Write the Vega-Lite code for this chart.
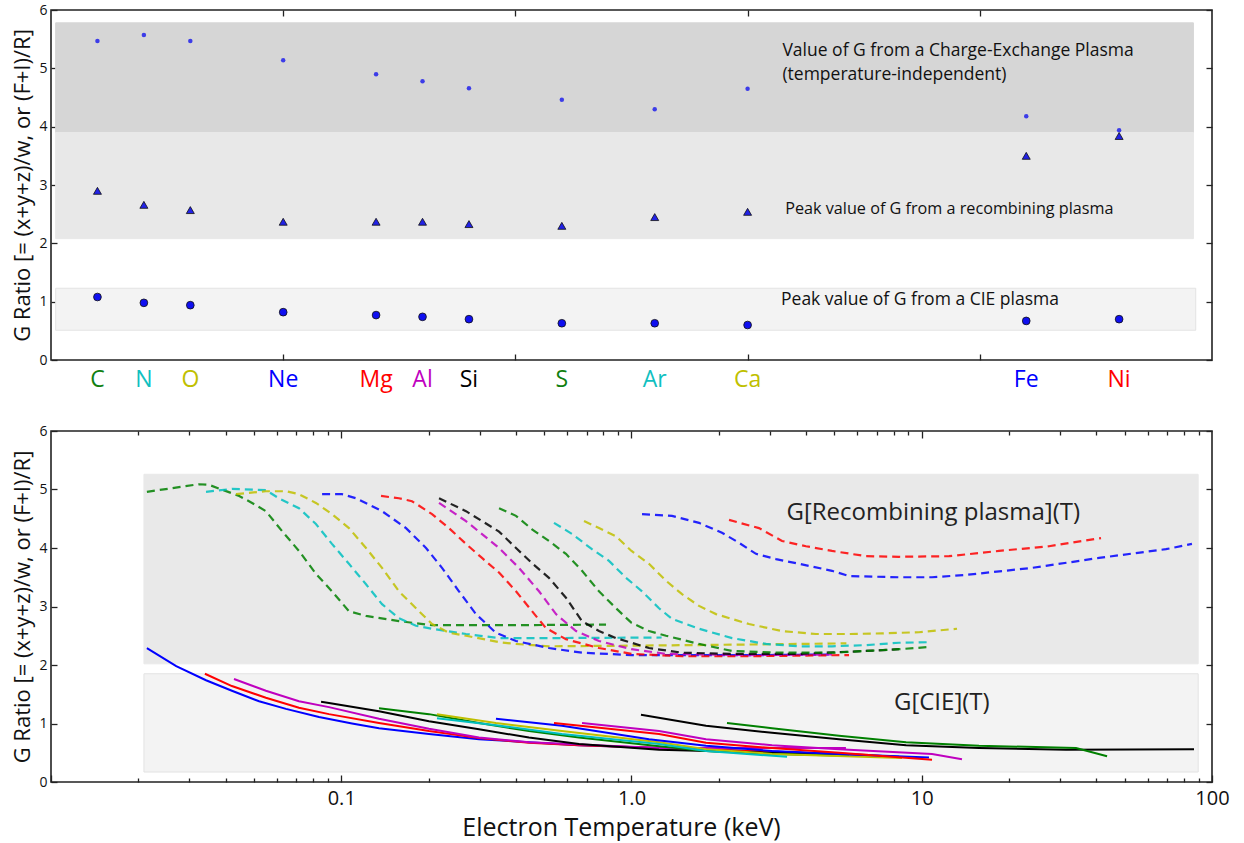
{
  "$schema": "https://vega.github.io/schema/vega-lite/v6.json",
  "padding": {"left": 11, "top": 2, "right": 5, "bottom": 0},
  "background": "white",
  "spacing": 30,
  "config": {
    "font": "Open Sans",
    "view": {"stroke": "#222", "strokeWidth": 1.6},
    "axis": {"domain": false, "grid": false, "zindex": 1, "tickColor": "#222", "tickWidth": 1.3, "labelColor": "#111", "titleColor": "#111", "titleFontWeight": "normal", "labelFont": "Open Sans", "titleFont": "Open Sans"}
  },
  "resolve": {"scale": {"color": "independent", "fill": "independent", "stroke": "independent"}},
  "datasets": {
    "elements": [
      {"el": "C", "Z": 6}, {"el": "N", "Z": 7}, {"el": "O", "Z": 8}, {"el": "Ne", "Z": 10},
      {"el": "Mg", "Z": 12}, {"el": "Al", "Z": 13}, {"el": "Si", "Z": 14}, {"el": "S", "Z": 16},
      {"el": "Ar", "Z": 18}, {"el": "Ca", "Z": 20}, {"el": "Fe", "Z": 26}, {"el": "Ni", "Z": 28}
    ],
    "topPoints": [
      {"el": "C", "Z": 6, "kind": "cx", "G": 5.47}, {"el": "C", "Z": 6, "kind": "rec", "G": 2.90}, {"el": "C", "Z": 6, "kind": "cie", "G": 1.08},
      {"el": "N", "Z": 7, "kind": "cx", "G": 5.57}, {"el": "N", "Z": 7, "kind": "rec", "G": 2.66}, {"el": "N", "Z": 7, "kind": "cie", "G": 0.98},
      {"el": "O", "Z": 8, "kind": "cx", "G": 5.47}, {"el": "O", "Z": 8, "kind": "rec", "G": 2.57}, {"el": "O", "Z": 8, "kind": "cie", "G": 0.94},
      {"el": "Ne", "Z": 10, "kind": "cx", "G": 5.14}, {"el": "Ne", "Z": 10, "kind": "rec", "G": 2.37}, {"el": "Ne", "Z": 10, "kind": "cie", "G": 0.82},
      {"el": "Mg", "Z": 12, "kind": "cx", "G": 4.90}, {"el": "Mg", "Z": 12, "kind": "rec", "G": 2.37}, {"el": "Mg", "Z": 12, "kind": "cie", "G": 0.77},
      {"el": "Al", "Z": 13, "kind": "cx", "G": 4.78}, {"el": "Al", "Z": 13, "kind": "rec", "G": 2.37}, {"el": "Al", "Z": 13, "kind": "cie", "G": 0.74},
      {"el": "Si", "Z": 14, "kind": "cx", "G": 4.66}, {"el": "Si", "Z": 14, "kind": "rec", "G": 2.33}, {"el": "Si", "Z": 14, "kind": "cie", "G": 0.70},
      {"el": "S", "Z": 16, "kind": "cx", "G": 4.46}, {"el": "S", "Z": 16, "kind": "rec", "G": 2.30}, {"el": "S", "Z": 16, "kind": "cie", "G": 0.63},
      {"el": "Ar", "Z": 18, "kind": "cx", "G": 4.30}, {"el": "Ar", "Z": 18, "kind": "rec", "G": 2.45}, {"el": "Ar", "Z": 18, "kind": "cie", "G": 0.63},
      {"el": "Ca", "Z": 20, "kind": "cx", "G": 4.65}, {"el": "Ca", "Z": 20, "kind": "rec", "G": 2.54}, {"el": "Ca", "Z": 20, "kind": "cie", "G": 0.60},
      {"el": "Fe", "Z": 26, "kind": "cx", "G": 4.18}, {"el": "Fe", "Z": 26, "kind": "rec", "G": 3.50}, {"el": "Fe", "Z": 26, "kind": "cie", "G": 0.67},
      {"el": "Ni", "Z": 28, "kind": "cx", "G": 3.94}, {"el": "Ni", "Z": 28, "kind": "rec", "G": 3.84}, {"el": "Ni", "Z": 28, "kind": "cie", "G": 0.70}
    ],
    "topBands": [
      {"band": "charge-exchange", "Z1": 5.1, "Z2": 29.6, "G1": 3.9, "G2": 5.78},
      {"band": "recombining", "Z1": 5.1, "Z2": 29.6, "G1": 2.08, "G2": 3.9},
      {"band": "CIE", "Z1": 5.1, "Z2": 29.65, "G1": 0.51, "G2": 1.23}
    ],
    "topNotes": [
      {"note": "Value of G from a Charge-Exchange Plasma", "Z": 20.75, "G": 5.3},
      {"note": "(temperature-independent)", "Z": 20.75, "G": 4.88},
      {"note": "Peak value of G from a recombining plasma", "Z": 20.81, "G": 2.59},
      {"note": "Peak value of G from a CIE plasma", "Z": 20.72, "G": 1.03}
    ],
    "bottomBands": [
      {"band": "recombining", "T1": 0.0209, "T2": 89.6, "G1": 2.02, "G2": 5.26},
      {"band": "CIE", "T1": 0.0209, "T2": 89.6, "G1": 0.17, "G2": 1.85}
    ],
    "bottomNotes": [
      {"note": "G[Recombining plasma](T)", "T": 3.42, "G": 4.6},
      {"note": "G[CIE](T)", "T": 8.02, "G": 1.35}
    ],
    "recLines": [
      {"el": "C", "T": 0.0214, "G": 4.96}, {"el": "C", "T": 0.0323, "G": 5.09}, {"el": "C", "T": 0.035, "G": 5.08}, {"el": "C", "T": 0.0445, "G": 4.89}, {"el": "C", "T": 0.0493, "G": 4.77}, {"el": "C", "T": 0.055, "G": 4.63}, {"el": "C", "T": 0.0625, "G": 4.29}, {"el": "C", "T": 0.0715, "G": 3.95}, {"el": "C", "T": 0.0818, "G": 3.56}, {"el": "C", "T": 0.0929, "G": 3.26}, {"el": "C", "T": 0.1063, "G": 2.92}, {"el": "C", "T": 0.1217, "G": 2.84}, {"el": "C", "T": 0.158, "G": 2.75}, {"el": "C", "T": 0.2055, "G": 2.68}, {"el": "C", "T": 0.35, "G": 2.68}, {"el": "C", "T": 0.817, "G": 2.69},
      {"el": "N", "T": 0.0342, "G": 4.96}, {"el": "N", "T": 0.042, "G": 5.01}, {"el": "N", "T": 0.055, "G": 4.99}, {"el": "N", "T": 0.061, "G": 4.85}, {"el": "N", "T": 0.0715, "G": 4.68}, {"el": "N", "T": 0.0818, "G": 4.41}, {"el": "N", "T": 0.0929, "G": 4.07}, {"el": "N", "T": 0.1063, "G": 3.73}, {"el": "N", "T": 0.1217, "G": 3.38}, {"el": "N", "T": 0.1382, "G": 3.04}, {"el": "N", "T": 0.158, "G": 2.8}, {"el": "N", "T": 0.1809, "G": 2.67}, {"el": "N", "T": 0.2055, "G": 2.62}, {"el": "N", "T": 0.269, "G": 2.53}, {"el": "N", "T": 0.35, "G": 2.46}, {"el": "N", "T": 0.52, "G": 2.46}, {"el": "N", "T": 1.27, "G": 2.47},
      {"el": "O", "T": 0.0434, "G": 4.92}, {"el": "O", "T": 0.055, "G": 4.97}, {"el": "O", "T": 0.0645, "G": 4.97}, {"el": "O", "T": 0.0715, "G": 4.92}, {"el": "O", "T": 0.0818, "G": 4.77}, {"el": "O", "T": 0.0929, "G": 4.58}, {"el": "O", "T": 0.1063, "G": 4.34}, {"el": "O", "T": 0.1217, "G": 4.0}, {"el": "O", "T": 0.1382, "G": 3.66}, {"el": "O", "T": 0.158, "G": 3.26}, {"el": "O", "T": 0.1809, "G": 2.97}, {"el": "O", "T": 0.2055, "G": 2.7}, {"el": "O", "T": 0.235, "G": 2.55}, {"el": "O", "T": 0.269, "G": 2.5}, {"el": "O", "T": 0.35, "G": 2.39}, {"el": "O", "T": 0.4, "G": 2.36}, {"el": "O", "T": 0.52, "G": 2.32}, {"el": "O", "T": 1.0, "G": 2.33}, {"el": "O", "T": 2.5, "G": 2.35}, {"el": "O", "T": 5.5, "G": 2.37},
      {"el": "Ne", "T": 0.0859, "G": 4.92}, {"el": "Ne", "T": 0.1006, "G": 4.92}, {"el": "Ne", "T": 0.1124, "G": 4.85}, {"el": "Ne", "T": 0.1382, "G": 4.63}, {"el": "Ne", "T": 0.1672, "G": 4.34}, {"el": "Ne", "T": 0.1959, "G": 4.0}, {"el": "Ne", "T": 0.2224, "G": 3.66}, {"el": "Ne", "T": 0.2544, "G": 3.26}, {"el": "Ne", "T": 0.2912, "G": 2.87}, {"el": "Ne", "T": 0.3412, "G": 2.55}, {"el": "Ne", "T": 0.4, "G": 2.41}, {"el": "Ne", "T": 0.5195, "G": 2.29}, {"el": "Ne", "T": 0.6754, "G": 2.21}, {"el": "Ne", "T": 1.0, "G": 2.17}, {"el": "Ne", "T": 1.709, "G": 2.17}, {"el": "Ne", "T": 2.907, "G": 2.17}, {"el": "Ne", "T": 4.908, "G": 2.18},
      {"el": "Mg", "T": 0.1371, "G": 4.89}, {"el": "Mg", "T": 0.158, "G": 4.85}, {"el": "Mg", "T": 0.1753, "G": 4.8}, {"el": "Mg", "T": 0.2055, "G": 4.58}, {"el": "Mg", "T": 0.235, "G": 4.34}, {"el": "Mg", "T": 0.269, "G": 4.07}, {"el": "Mg", "T": 0.3054, "G": 3.83}, {"el": "Mg", "T": 0.3496, "G": 3.58}, {"el": "Mg", "T": 0.4, "G": 3.26}, {"el": "Mg", "T": 0.4542, "G": 2.92}, {"el": "Mg", "T": 0.5075, "G": 2.63}, {"el": "Mg", "T": 0.5946, "G": 2.44}, {"el": "Mg", "T": 0.7727, "G": 2.29}, {"el": "Mg", "T": 1.0, "G": 2.19}, {"el": "Mg", "T": 1.493, "G": 2.15}, {"el": "Mg", "T": 2.54, "G": 2.15}, {"el": "Mg", "T": 5.616, "G": 2.17},
      {"el": "Al", "T": 0.2172, "G": 4.77}, {"el": "Al", "T": 0.269, "G": 4.46}, {"el": "Al", "T": 0.3496, "G": 4.0}, {"el": "Al", "T": 0.4097, "G": 3.66}, {"el": "Al", "T": 0.4801, "G": 3.26}, {"el": "Al", "T": 0.5494, "G": 2.87}, {"el": "Al", "T": 0.6437, "G": 2.58}, {"el": "Al", "T": 0.7727, "G": 2.41}, {"el": "Al", "T": 1.0, "G": 2.27}, {"el": "Al", "T": 1.315, "G": 2.19}, {"el": "Al", "T": 2.54, "G": 2.17}, {"el": "Al", "T": 4.908, "G": 2.18},
      {"el": "Si", "T": 0.2172, "G": 4.85}, {"el": "Si", "T": 0.269, "G": 4.63}, {"el": "Si", "T": 0.3496, "G": 4.28}, {"el": "Si", "T": 0.4, "G": 4.0}, {"el": "Si", "T": 0.4542, "G": 3.74}, {"el": "Si", "T": 0.5195, "G": 3.49}, {"el": "Si", "T": 0.5946, "G": 3.15}, {"el": "Si", "T": 0.6754, "G": 2.75}, {"el": "Si", "T": 0.7727, "G": 2.58}, {"el": "Si", "T": 0.8844, "G": 2.46}, {"el": "Si", "T": 1.149, "G": 2.29}, {"el": "Si", "T": 1.493, "G": 2.21}, {"el": "Si", "T": 2.22, "G": 2.19}, {"el": "Si", "T": 3.777, "G": 2.19}, {"el": "Si", "T": 6.428, "G": 2.24}, {"el": "Si", "T": 8.35, "G": 2.27},
      {"el": "S", "T": 0.3496, "G": 4.68}, {"el": "S", "T": 0.4, "G": 4.55}, {"el": "S", "T": 0.4542, "G": 4.32}, {"el": "S", "T": 0.5195, "G": 4.12}, {"el": "S", "T": 0.5946, "G": 3.9}, {"el": "S", "T": 0.6754, "G": 3.61}, {"el": "S", "T": 0.7727, "G": 3.26}, {"el": "S", "T": 0.8844, "G": 2.97}, {"el": "S", "T": 1.0, "G": 2.72}, {"el": "S", "T": 1.149, "G": 2.58}, {"el": "S", "T": 1.315, "G": 2.5}, {"el": "S", "T": 1.709, "G": 2.36}, {"el": "S", "T": 2.22, "G": 2.24}, {"el": "S", "T": 3.301, "G": 2.21}, {"el": "S", "T": 4.908, "G": 2.21}, {"el": "S", "T": 6.428, "G": 2.24}, {"el": "S", "T": 8.35, "G": 2.27}, {"el": "S", "T": 10.76, "G": 2.31},
      {"el": "Ar", "T": 0.5407, "G": 4.43}, {"el": "Ar", "T": 0.6237, "G": 4.24}, {"el": "Ar", "T": 0.7307, "G": 3.98}, {"el": "Ar", "T": 0.8367, "G": 3.78}, {"el": "Ar", "T": 0.9573, "G": 3.49}, {"el": "Ar", "T": 1.087, "G": 3.26}, {"el": "Ar", "T": 1.244, "G": 2.97}, {"el": "Ar", "T": 1.379, "G": 2.79}, {"el": "Ar", "T": 1.709, "G": 2.62}, {"el": "Ar", "T": 2.22, "G": 2.46}, {"el": "Ar", "T": 2.907, "G": 2.36}, {"el": "Ar", "T": 3.777, "G": 2.32}, {"el": "Ar", "T": 4.908, "G": 2.32}, {"el": "Ar", "T": 6.428, "G": 2.34}, {"el": "Ar", "T": 8.35, "G": 2.38}, {"el": "Ar", "T": 10.76, "G": 2.39},
      {"el": "Ca", "T": 0.6862, "G": 4.46}, {"el": "Ca", "T": 0.7727, "G": 4.34}, {"el": "Ca", "T": 0.8844, "G": 4.2}, {"el": "Ca", "T": 1.0, "G": 3.95}, {"el": "Ca", "T": 1.149, "G": 3.73}, {"el": "Ca", "T": 1.315, "G": 3.44}, {"el": "Ca", "T": 1.493, "G": 3.21}, {"el": "Ca", "T": 1.709, "G": 3.01}, {"el": "Ca", "T": 1.955, "G": 2.87}, {"el": "Ca", "T": 2.54, "G": 2.7}, {"el": "Ca", "T": 3.301, "G": 2.58}, {"el": "Ca", "T": 4.322, "G": 2.53}, {"el": "Ca", "T": 5.616, "G": 2.53}, {"el": "Ca", "T": 7.295, "G": 2.54}, {"el": "Ca", "T": 8.35, "G": 2.55}, {"el": "Ca", "T": 9.78, "G": 2.56}, {"el": "Ca", "T": 13.23, "G": 2.62},
      {"el": "Fe", "T": 1.087, "G": 4.58}, {"el": "Fe", "T": 1.379, "G": 4.55}, {"el": "Fe", "T": 1.709, "G": 4.43}, {"el": "Fe", "T": 2.05, "G": 4.26}, {"el": "Fe", "T": 2.346, "G": 4.09}, {"el": "Fe", "T": 2.685, "G": 3.9}, {"el": "Fe", "T": 3.147, "G": 3.81}, {"el": "Fe", "T": 3.777, "G": 3.73}, {"el": "Fe", "T": 4.908, "G": 3.61}, {"el": "Fe", "T": 5.616, "G": 3.52}, {"el": "Fe", "T": 8.35, "G": 3.5}, {"el": "Fe", "T": 10.85, "G": 3.5}, {"el": "Fe", "T": 14.21, "G": 3.54}, {"el": "Fe", "T": 23.98, "G": 3.66}, {"el": "Fe", "T": 40.8, "G": 3.83}, {"el": "Fe", "T": 69.4, "G": 3.98}, {"el": "Fe", "T": 85.3, "G": 4.07},
      {"el": "Ni", "T": 2.168, "G": 4.48}, {"el": "Ni", "T": 2.75, "G": 4.34}, {"el": "Ni", "T": 3.301, "G": 4.12}, {"el": "Ni", "T": 3.992, "G": 4.03}, {"el": "Ni", "T": 4.908, "G": 3.95}, {"el": "Ni", "T": 6.428, "G": 3.86}, {"el": "Ni", "T": 8.35, "G": 3.85}, {"el": "Ni", "T": 12.42, "G": 3.86}, {"el": "Ni", "T": 18.46, "G": 3.95}, {"el": "Ni", "T": 27.44, "G": 4.03}, {"el": "Ni", "T": 41.46, "G": 4.17}
    ],
    "cieLines": [
      {"curve": "CIE-1", "T": 0.0214, "G": 2.29}, {"curve": "CIE-1", "T": 0.027, "G": 1.98}, {"curve": "CIE-1", "T": 0.0342, "G": 1.74}, {"curve": "CIE-1", "T": 0.042, "G": 1.56}, {"curve": "CIE-1", "T": 0.0521, "G": 1.38}, {"curve": "CIE-1", "T": 0.0645, "G": 1.25}, {"curve": "CIE-1", "T": 0.0838, "G": 1.11}, {"curve": "CIE-1", "T": 0.1089, "G": 1.0}, {"curve": "CIE-1", "T": 0.1349, "G": 0.92}, {"curve": "CIE-1", "T": 0.2006, "G": 0.82}, {"curve": "CIE-1", "T": 0.2983, "G": 0.73}, {"curve": "CIE-1", "T": 0.4433, "G": 0.68}, {"curve": "CIE-1", "T": 0.6594, "G": 0.63}, {"curve": "CIE-1", "T": 1.244, "G": 0.58}, {"curve": "CIE-1", "T": 3.049, "G": 0.52}, {"curve": "CIE-1", "T": 5.616, "G": 0.47}, {"curve": "CIE-1", "T": 8.35, "G": 0.43},
      {"curve": "CIE-2", "T": 0.0339, "G": 1.85}, {"curve": "CIE-2", "T": 0.042, "G": 1.64}, {"curve": "CIE-2", "T": 0.055, "G": 1.44}, {"curve": "CIE-2", "T": 0.0715, "G": 1.27}, {"curve": "CIE-2", "T": 0.0907, "G": 1.16}, {"curve": "CIE-2", "T": 0.1349, "G": 1.01}, {"curve": "CIE-2", "T": 0.2006, "G": 0.87}, {"curve": "CIE-2", "T": 0.2983, "G": 0.75}, {"curve": "CIE-2", "T": 0.4433, "G": 0.67}, {"curve": "CIE-2", "T": 0.6594, "G": 0.63}, {"curve": "CIE-2", "T": 1.244, "G": 0.58}, {"curve": "CIE-2", "T": 3.777, "G": 0.5}, {"curve": "CIE-2", "T": 6.58, "G": 0.46},
      {"curve": "CIE-3", "T": 0.0427, "G": 1.76}, {"curve": "CIE-3", "T": 0.055, "G": 1.56}, {"curve": "CIE-3", "T": 0.0715, "G": 1.38}, {"curve": "CIE-3", "T": 0.0907, "G": 1.28}, {"curve": "CIE-3", "T": 0.1349, "G": 1.08}, {"curve": "CIE-3", "T": 0.2006, "G": 0.91}, {"curve": "CIE-3", "T": 0.2983, "G": 0.76}, {"curve": "CIE-3", "T": 0.4433, "G": 0.68}, {"curve": "CIE-3", "T": 0.6594, "G": 0.64}, {"curve": "CIE-3", "T": 1.244, "G": 0.58}, {"curve": "CIE-3", "T": 2.5, "G": 0.58}, {"curve": "CIE-3", "T": 5.48, "G": 0.58},
      {"curve": "CIE-4", "T": 0.0852, "G": 1.37}, {"curve": "CIE-4", "T": 0.0907, "G": 1.35}, {"curve": "CIE-4", "T": 0.1349, "G": 1.21}, {"curve": "CIE-4", "T": 0.2006, "G": 1.04}, {"curve": "CIE-4", "T": 0.2983, "G": 0.9}, {"curve": "CIE-4", "T": 0.4433, "G": 0.76}, {"curve": "CIE-4", "T": 0.6594, "G": 0.65}, {"curve": "CIE-4", "T": 1.244, "G": 0.55}, {"curve": "CIE-4", "T": 3.049, "G": 0.5}, {"curve": "CIE-4", "T": 5.616, "G": 0.48},
      {"curve": "CIE-5", "T": 0.1349, "G": 1.26}, {"curve": "CIE-5", "T": 0.2006, "G": 1.16}, {"curve": "CIE-5", "T": 0.2983, "G": 1.01}, {"curve": "CIE-5", "T": 0.4433, "G": 0.87}, {"curve": "CIE-5", "T": 0.6594, "G": 0.76}, {"curve": "CIE-5", "T": 1.244, "G": 0.61}, {"curve": "CIE-5", "T": 1.806, "G": 0.53}, {"curve": "CIE-5", "T": 3.049, "G": 0.48}, {"curve": "CIE-5", "T": 5.616, "G": 0.45},
      {"curve": "CIE-6", "T": 0.2137, "G": 1.16}, {"curve": "CIE-6", "T": 0.3412, "G": 1.01}, {"curve": "CIE-6", "T": 0.576, "G": 0.87}, {"curve": "CIE-6", "T": 1.244, "G": 0.68}, {"curve": "CIE-6", "T": 1.806, "G": 0.56}, {"curve": "CIE-6", "T": 3.049, "G": 0.48}, {"curve": "CIE-6", "T": 8.55, "G": 0.41},
      {"curve": "CIE-7", "T": 0.2137, "G": 1.09}, {"curve": "CIE-7", "T": 0.3412, "G": 0.97}, {"curve": "CIE-7", "T": 0.576, "G": 0.82}, {"curve": "CIE-7", "T": 1.244, "G": 0.65}, {"curve": "CIE-7", "T": 1.806, "G": 0.53}, {"curve": "CIE-7", "T": 3.435, "G": 0.43},
      {"curve": "CIE-8", "T": 0.3412, "G": 1.08}, {"curve": "CIE-8", "T": 0.576, "G": 0.96}, {"curve": "CIE-8", "T": 1.149, "G": 0.73}, {"curve": "CIE-8", "T": 1.806, "G": 0.62}, {"curve": "CIE-8", "T": 3.049, "G": 0.53}, {"curve": "CIE-8", "T": 5.187, "G": 0.48}, {"curve": "CIE-8", "T": 10.59, "G": 0.42},
      {"curve": "CIE-9", "T": 0.5407, "G": 1.01}, {"curve": "CIE-9", "T": 1.244, "G": 0.82}, {"curve": "CIE-9", "T": 1.806, "G": 0.67}, {"curve": "CIE-9", "T": 3.049, "G": 0.58}, {"curve": "CIE-9", "T": 5.187, "G": 0.5}, {"curve": "CIE-9", "T": 10.85, "G": 0.38},
      {"curve": "CIE-10", "T": 0.6754, "G": 1.01}, {"curve": "CIE-10", "T": 1.244, "G": 0.87}, {"curve": "CIE-10", "T": 1.806, "G": 0.73}, {"curve": "CIE-10", "T": 3.049, "G": 0.63}, {"curve": "CIE-10", "T": 5.187, "G": 0.56}, {"curve": "CIE-10", "T": 10.85, "G": 0.48}, {"curve": "CIE-10", "T": 13.76, "G": 0.39},
      {"curve": "CIE-11", "T": 1.078, "G": 1.15}, {"curve": "CIE-11", "T": 1.379, "G": 1.06}, {"curve": "CIE-11", "T": 1.806, "G": 0.96}, {"curve": "CIE-11", "T": 3.049, "G": 0.84}, {"curve": "CIE-11", "T": 5.187, "G": 0.73}, {"curve": "CIE-11", "T": 8.83, "G": 0.63}, {"curve": "CIE-11", "T": 15.75, "G": 0.58}, {"curve": "CIE-11", "T": 31.4, "G": 0.55}, {"curve": "CIE-11", "T": 86.7, "G": 0.56},
      {"curve": "CIE-12", "T": 2.133, "G": 1.01}, {"curve": "CIE-12", "T": 3.049, "G": 0.92}, {"curve": "CIE-12", "T": 5.187, "G": 0.79}, {"curve": "CIE-12", "T": 8.83, "G": 0.68}, {"curve": "CIE-12", "T": 15.75, "G": 0.62}, {"curve": "CIE-12", "T": 34.0, "G": 0.58}, {"curve": "CIE-12", "T": 43.5, "G": 0.44}
    ]
  },
  "vconcat": [
    {
      "width": 1161,
      "height": 350,
      "resolve": {"axis": {"x": "independent", "y": "independent"}, "scale": {"color": "independent", "fill": "independent", "stroke": "independent"}},
      "layer": [
        {
          "data": {"name": "topBands"},
          "mark": {"type": "rect", "strokeWidth": 1},
          "encoding": {
            "x": {"field": "Z1", "type": "quantitative", "scale": {"domain": [5, 30], "nice": false, "zero": false},
                  "axis": {"orient": "bottom", "values": [10, 15, 20, 25], "labels": false, "tickSize": 6, "offset": -6, "title": null}},
            "x2": {"field": "Z2"},
            "y": {"field": "G1", "type": "quantitative", "scale": {"domain": [0, 6], "nice": false},
                  "axis": {"orient": "left", "values": [0, 1, 2, 3, 4, 5, 6], "tickSize": 6, "offset": -6, "labelFontSize": 14, "labelPadding": 4, "title": "G Ratio [= (x+y+z)/w, or (F+I)/R]", "titleFontSize": 22, "titlePadding": 4}},
            "y2": {"field": "G2"},
            "fill": {"field": "band", "type": "nominal", "scale": {"domain": ["charge-exchange", "recombining", "CIE"], "range": ["#d6d6d6", "#e8e8e8", "#f3f3f3"]}, "legend": null},
            "stroke": {"field": "band", "type": "nominal", "scale": {"domain": ["charge-exchange", "recombining", "CIE"], "range": ["#d6d6d6", "#e8e8e8", "#e3e3e3"]}, "legend": null}
          }
        },
        {
          "data": {"name": "topPoints"},
          "transform": [{"filter": "datum.kind == 'cx'"}],
          "mark": {"type": "point", "shape": "circle", "filled": true, "size": 20, "color": "#3c3ce8", "opacity": 1},
          "encoding": {
            "x": {"field": "Z", "type": "quantitative", "scale": {"domain": [5, 30], "nice": false, "zero": false},
                  "axis": {"orient": "top", "values": [10, 15, 20, 25], "labels": false, "tickSize": 6, "offset": -6, "title": null}},
            "y": {"field": "G", "type": "quantitative", "scale": {"domain": [0, 6], "nice": false},
                  "axis": {"orient": "right", "values": [0, 1, 2, 3, 4, 5, 6], "labels": false, "tickSize": 6, "offset": -6, "title": null}}
          }
        },
        {
          "data": {"name": "topPoints"},
          "transform": [{"filter": "datum.kind == 'rec'"}],
          "mark": {"type": "point", "shape": "triangle-up", "filled": true, "size": 64, "fill": "#2222e6", "stroke": "#111", "strokeWidth": 0.8, "opacity": 1},
          "encoding": {
            "x": {"field": "Z", "type": "quantitative", "scale": {"domain": [5, 30], "nice": false, "zero": false}, "axis": null},
            "y": {"field": "G", "type": "quantitative", "scale": {"domain": [0, 6], "nice": false}, "axis": null}
          }
        },
        {
          "data": {"name": "topPoints"},
          "transform": [{"filter": "datum.kind == 'cie'"}],
          "mark": {"type": "point", "shape": "circle", "filled": true, "size": 60, "fill": "#0f0ff0", "stroke": "#111", "strokeWidth": 0.8, "opacity": 1},
          "encoding": {
            "x": {"field": "Z", "type": "quantitative", "scale": {"domain": [5, 30], "nice": false, "zero": false}, "axis": null},
            "y": {"field": "G", "type": "quantitative", "scale": {"domain": [0, 6], "nice": false}, "axis": null}
          }
        },
        {
          "data": {"name": "elements"},
          "mark": {"type": "text", "fontSize": 23, "align": "center", "baseline": "middle", "font": "Open Sans"},
          "encoding": {
            "x": {"field": "Z", "type": "quantitative", "scale": {"domain": [5, 30], "nice": false, "zero": false}, "axis": null},
            "y": {"datum": -0.34, "type": "quantitative", "scale": {"domain": [0, 6], "nice": false}, "axis": null},
            "text": {"field": "el"},
            "color": {"field": "el", "type": "nominal",
                      "scale": {"domain": ["C", "N", "O", "Ne", "Mg", "Al", "Si", "S", "Ar", "Ca", "Fe", "Ni"],
                                "range": ["#108010", "#10c0c0", "#c0c000", "#0000ff", "#ff0000", "#c000c0", "#000000", "#108010", "#10c0c0", "#c0c000", "#0000ff", "#ff0000"]},
                      "legend": null}
          }
        },
        {
          "data": {"name": "topNotes"},
          "transform": [{"filter": "datum.note != 'Peak value of G from a recombining plasma'"}],
          "mark": {"type": "text", "fontSize": 17.5, "align": "left", "baseline": "middle", "color": "#111", "font": "Open Sans"},
          "encoding": {
            "x": {"field": "Z", "type": "quantitative", "scale": {"domain": [5, 30], "nice": false, "zero": false}, "axis": null},
            "y": {"field": "G", "type": "quantitative", "scale": {"domain": [0, 6], "nice": false}, "axis": null},
            "text": {"field": "note"}
          }
        },
        {
          "data": {"name": "topNotes"},
          "transform": [{"filter": "datum.note == 'Peak value of G from a recombining plasma'"}],
          "mark": {"type": "text", "fontSize": 16.2, "align": "left", "baseline": "middle", "color": "#111", "font": "Open Sans"},
          "encoding": {
            "x": {"field": "Z", "type": "quantitative", "scale": {"domain": [5, 30], "nice": false, "zero": false}, "axis": null},
            "y": {"field": "G", "type": "quantitative", "scale": {"domain": [0, 6], "nice": false}, "axis": null},
            "text": {"field": "note"}
          }
        }
      ]
    },
    {
      "width": 1161,
      "height": 351,
      "resolve": {"axis": {"x": "independent", "y": "independent"}, "scale": {"color": "independent", "fill": "independent", "stroke": "independent"}},
      "layer": [
        {
          "data": {"name": "bottomBands"},
          "mark": {"type": "rect", "strokeWidth": 1},
          "encoding": {
            "x": {"field": "T1", "type": "quantitative", "scale": {"type": "log", "domain": [0.01, 100], "nice": false},
                  "axis": {"orient": "bottom", "values": [0.01, 0.1, 1, 10, 100], "tickSize": 7, "offset": -7, "labelFontSize": 20, "labelPadding": 6, "labelFlush": false, "labelOverlap": false,
                           "labelExpr": "datum.value < 0.05 ? '' : datum.value < 0.5 ? '0.1' : datum.value < 5 ? '1.0' : datum.value < 50 ? '10' : '100'",
                           "title": "Electron Temperature (keV)", "titleFontSize": 25, "titlePadding": 7, "titleX": 570}},
            "x2": {"field": "T2"},
            "y": {"field": "G1", "type": "quantitative", "scale": {"domain": [0, 6], "nice": false},
                  "axis": {"orient": "left", "values": [0, 1, 2, 3, 4, 5, 6], "tickSize": 6, "offset": -6, "labelFontSize": 14, "labelPadding": 4, "title": "G Ratio [= (x+y+z)/w, or (F+I)/R]", "titleFontSize": 22, "titlePadding": 4}},
            "y2": {"field": "G2"},
            "fill": {"field": "band", "type": "nominal", "scale": {"domain": ["recombining", "CIE"], "range": ["#e9e9e9", "#f3f3f3"]}, "legend": null},
            "stroke": {"field": "band", "type": "nominal", "scale": {"domain": ["recombining", "CIE"], "range": ["#e9e9e9", "#e3e3e3"]}, "legend": null}
          }
        },
        {
          "data": {"name": "recLines"},
          "mark": {"type": "line", "strokeDash": [8, 5], "strokeWidth": 2.2, "opacity": 0.85},
          "encoding": {
            "x": {"field": "T", "type": "quantitative", "scale": {"type": "log", "domain": [0.01, 100], "nice": false},
                  "axis": {"orient": "bottom", "values": [0.02, 0.03, 0.04, 0.05, 0.06, 0.07, 0.08, 0.09, 0.2, 0.3, 0.4, 0.5, 0.6, 0.7, 0.8, 0.9, 2, 3, 4, 5, 6, 7, 8, 9, 20, 30, 40, 50, 60, 70, 80, 90], "labels": false, "tickSize": 4, "offset": -4, "title": null}},
            "y": {"field": "G", "type": "quantitative", "scale": {"domain": [0, 6], "nice": false},
                  "axis": {"orient": "right", "values": [0, 1, 2, 3, 4, 5, 6], "labels": false, "tickSize": 6, "offset": -6, "title": null}},
            "detail": {"field": "el"},
            "color": {"field": "el", "type": "nominal",
                      "scale": {"domain": ["C", "N", "O", "Ne", "Mg", "Al", "Si", "S", "Ar", "Ca", "Fe", "Ni"],
                                "range": ["#008000", "#00bfbf", "#bfbf00", "#0000ff", "#ff0000", "#bf00bf", "#000000", "#008000", "#00bfbf", "#bfbf00", "#0000ff", "#ff0000"]},
                      "legend": null}
          }
        },
        {
          "data": {"name": "cieLines"},
          "mark": {"type": "line", "strokeWidth": 2},
          "encoding": {
            "x": {"field": "T", "type": "quantitative", "scale": {"type": "log", "domain": [0.01, 100], "nice": false},
                  "axis": {"orient": "top", "values": [0.1, 1, 10], "labels": false, "tickSize": 7, "offset": -7, "title": null}},
            "y": {"field": "G", "type": "quantitative", "scale": {"domain": [0, 6], "nice": false}, "axis": null},
            "detail": {"field": "curve"},
            "stroke": {"field": "curve", "type": "nominal",
                       "scale": {"domain": ["CIE-1", "CIE-2", "CIE-3", "CIE-4", "CIE-5", "CIE-6", "CIE-7", "CIE-8", "CIE-9", "CIE-10", "CIE-11", "CIE-12"],
                                 "range": ["#0000ff", "#ff0000", "#bf00bf", "#000000", "#008000", "#bfbf00", "#00bfbf", "#0000ff", "#ff0000", "#bf00bf", "#000000", "#008000"]},
                       "legend": null}
          }
        },
        {
          "data": {"name": "bottomNotes"},
          "mark": {"type": "text", "fontSize": 24, "align": "left", "baseline": "middle", "color": "#222", "font": "Open Sans"},
          "encoding": {
            "x": {"field": "T", "type": "quantitative", "scale": {"type": "log", "domain": [0.01, 100], "nice": false},
                  "axis": {"orient": "top", "values": [0.02, 0.03, 0.04, 0.05, 0.06, 0.07, 0.08, 0.09, 0.2, 0.3, 0.4, 0.5, 0.6, 0.7, 0.8, 0.9, 2, 3, 4, 5, 6, 7, 8, 9, 20, 30, 40, 50, 60, 70, 80, 90], "labels": false, "tickSize": 4, "offset": -4, "title": null}},
            "y": {"field": "G", "type": "quantitative", "scale": {"domain": [0, 6], "nice": false}, "axis": null},
            "text": {"field": "note"}
          }
        }
      ]
    }
  ]
}
